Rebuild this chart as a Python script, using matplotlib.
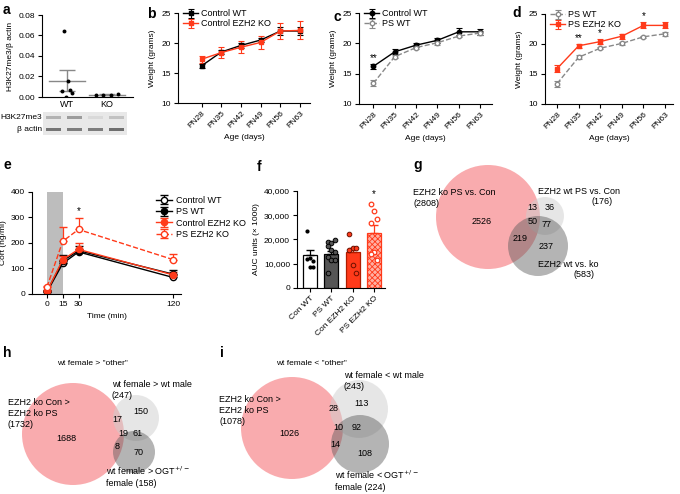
import numpy as np
import matplotlib.pyplot as plt
from matplotlib.patches import Circle, Rectangle

plt.rcParams['font.family'] = ['Liberation Sans', 'DejaVu Sans']
plt.rcParams['font.size'] = 6
plt.rcParams['axes.linewidth'] = 0.8
plt.rcParams['xtick.major.width'] = 0.8
plt.rcParams['ytick.major.width'] = 0.8
plt.rcParams['xtick.major.size'] = 3
plt.rcParams['ytick.major.size'] = 3
plt.rcParams['xtick.major.pad'] = 2
plt.rcParams['ytick.major.pad'] = 2
plt.rcParams['hatch.linewidth'] = 0.6

W, H = 680, 494
RED = '#ff3a1a'
GREY = '#888888'

# ---- data ----
# a: H3K27me3 / beta actin
a_groups = ['WT', 'KO']
a_wt = [0.0055, 0.064, 0.0003, 0.016, 0.007, 0.0036]
a_ko = [0.0022, 0.0018, 0.0020, 0.0030]
blot_rows = ['H3K27me3', 'β actin']
blot_intensity = [[0.5, 0.65, 0.25, 0.4], [0.9, 0.85, 0.85, 0.95]]

# b-d: weights
ages = ['PN28', 'PN35', 'PN42', 'PN49', 'PN56', 'PN63']
b_con_wt = [16.2, 18.5, 19.6, 20.5, 22.0, 22.0]
b_con_wt_sem = [0.3, 0.3, 0.4, 0.4, 0.6, 0.6]
b_con_ko = [17.3, 18.4, 19.3, 20.1, 22.0, 22.1]
b_con_ko_sem = [0.6, 0.9, 1.0, 1.1, 1.3, 1.5]
c_con_wt = [16.2, 18.6, 19.7, 20.5, 21.9, 21.9]
c_con_wt_sem = [0.4, 0.4, 0.3, 0.4, 0.6, 0.5]
ps_wt = [13.4, 17.8, 19.3, 20.1, 21.2, 21.7]
ps_wt_sem = [0.5, 0.3, 0.2, 0.3, 0.2, 0.3]
ps_ko = [15.9, 19.7, 20.4, 21.3, 23.1, 23.1]
ps_ko_sem = [0.6, 0.3, 0.4, 0.4, 0.5, 0.5]
c_stars = ['**', '', '', '', '', '']
d_stars = ['', '**', '*', '', '*', '']

# e: corticosterone
times = [0, 15, 30, 120]
e_con_wt = [8, 120, 165, 65]
e_con_wt_sem = [3, 12, 12, 8]
e_ps_wt = [10, 130, 170, 78]
e_ps_wt_sem = [4, 22, 20, 16]
e_con_ko = [10, 135, 175, 75]
e_con_ko_sem = [4, 15, 25, 12]
e_ps_ko = [28, 207, 253, 135]
e_ps_ko_sem = [5, 55, 45, 22]
e_stars = ['', '', '*', '']

# f: AUC
f_groups = ['Con WT', 'PS WT', 'Con EZH2 KO', 'PS EZH2 KO']
f_means = [13500, 14000, 14700, 22800]
f_sem = [2000, 1300, 1800, 3000]
f_points = [
    [23300, 12200, 11300, 11800, 8800, 8800],
    [19000, 18600, 19700, 17400, 15600, 14900, 12900, 11500, 11500, 6100],
    [22400, 16300, 16300, 15600, 9500, 6100],
    [34600, 31600, 28500, 26700, 14900, 11500, 14200],
]
f_stars = ['', '', '', '*']

# g-i: venn counts
g_sets = ['EZH2 ko PS vs. Con', 'EZH2 wt PS vs. Con', 'EZH2 wt vs. ko']
g_totals = [2808, 176, 583]
g_regions = [2526, 13, 36, 50, 77, 219, 237]  # ko, ko&ps, ps, all, ps&wt, ko&wt, wt
h_title = 'wt female > "other"'
h_totals = [1732, 247, 158]
h_regions = [1688, 17, 150, 19, 61, 8, 70]
i_title = 'wt female < "other"'
i_totals = [1078, 243, 224]
i_regions = [1026, 28, 113, 10, 92, 14, 108]


def px_ax(l, t, r, b):
    return fig.add_axes([l / W, 1 - b / H, (r - l) / W, (b - t) / H])


def clean(ax):
    ax.spines['top'].set_visible(False)
    ax.spines['right'].set_visible(False)


fig = plt.figure(figsize=(6.8, 4.94), dpi=100)

# ---- panel a ----
ax = px_ax(42, 15, 133, 97)
clean(ax)
for i, (vals, spread) in enumerate([(a_wt, 0.13), (a_ko, 0.27)]):
    n = len(vals)
    offs = np.linspace(-spread, spread, n)
    m = np.mean(vals)
    s = np.std(vals, ddof=1) / np.sqrt(n)
    ax.scatter(i + offs, vals, s=8, color='black', zorder=3, linewidths=0)
    ax.plot([i - 0.45, i + 0.45], [m, m], color=GREY, lw=1)
    ax.errorbar(i, m, yerr=s, color=GREY, capsize=6, lw=1, capthick=1)
ax.set_xlim(-0.62, 1.65)
ax.set_ylim(0, 0.08)
ax.set_yticks([0, 0.02, 0.04, 0.06, 0.08])
ax.yaxis.set_major_formatter(plt.FormatStrFormatter('%.2f'))
ax.set_xticks([0, 1])
ax.set_xticklabels(a_groups)
ax.tick_params(axis='x', length=0, labelsize=6.5)
ax.set_ylabel('H3K27me3/β actin', labelpad=3)

bx = px_ax(43, 112, 127, 135)
bx.set_xlim(0, 4)
bx.set_ylim(2, 0)
bx.add_patch(Rectangle((0, 0), 4, 2, color='#e8e8e8'))
for r, row in enumerate(blot_intensity):
    for j, v in enumerate(row):
        g = 1 - 0.6 * v
        bx.add_patch(Rectangle((j + 0.12, r + 0.36), 0.76, 0.28, color=(g, g, g), lw=0))
    bx.text(-0.06, r + 0.5, blot_rows[r], ha='right', va='center', fontsize=6)
bx.axis('off')

# ---- panels b, c, d ----
def weight_panel(box, xlim, series, stars):
    ax = px_ax(*box)
    clean(ax)
    x = np.arange(len(ages))
    for vals, sem, kw in series:
        ax.errorbar(x, vals, yerr=sem, capsize=2, elinewidth=0.8, capthick=0.8, ms=3.2, lw=1, **kw)
    if stars is not None:
        top = np.maximum(np.array(series[0][0]) + series[0][1], np.array(series[1][0]) + series[1][1])
        for xi, st in enumerate(stars):
            if st:
                ax.text(xi, top[xi] + 0.2, st, ha='center', va='bottom', fontsize=7)
    ax.set_xlim(*xlim)
    ax.set_ylim(10, 25)
    ax.set_yticks([10, 15, 20, 25])
    ax.set_xticks(x)
    ax.set_xticklabels(ages, rotation=45, ha='right', rotation_mode='anchor')
    ax.set_xlabel('Age (days)', labelpad=3)
    ax.set_ylabel('Weight (grams)', labelpad=4)
    ax.legend(loc='upper left', bbox_to_anchor=(0.0, 1.1), frameon=False, handlelength=1.6,
              handletextpad=0.4, labelspacing=0.1, borderaxespad=0.2, fontsize=6.5)
    return ax

weight_panel((178, 13, 310, 103), (-1.2, 5.5), [
    (b_con_wt, b_con_wt_sem, dict(color='black', marker='s', label='Control WT')),
    (b_con_ko, b_con_ko_sem, dict(color=RED, marker='s', label='Control EZH2 KO')),
], None)

weight_panel((359, 13, 492, 104), (-0.67, 5.55), [
    (c_con_wt, c_con_wt_sem, dict(color='black', marker='o', label='Control WT')),
    (ps_wt, ps_wt_sem, dict(color=GREY, marker='o', mfc='white', ls='--', label='PS WT')),
], c_stars)

weight_panel((545, 14, 673, 104), (-0.56, 5.37), [
    (ps_wt, ps_wt_sem, dict(color=GREY, marker='o', mfc='white', ls='--', label='PS WT')),
    (ps_ko, ps_ko_sem, dict(color=RED, marker='s', label='PS EZH2 KO')),
], d_stars)

# ---- panel e ----
ax = px_ax(32, 192, 181, 294)
clean(ax)
ax.axvspan(0, 15, color='#bdbdbd', lw=0, zorder=0)
e_series = [
    (e_con_wt, e_con_wt_sem, dict(color='black', marker='o', mfc='white', ls='-', label='Control WT')),
    (e_ps_wt, e_ps_wt_sem, dict(color='black', marker='o', ls='-', label='PS WT')),
    (e_con_ko, e_con_ko_sem, dict(color=RED, marker='o', ls='-', label='Control EZH2 KO')),
    (e_ps_ko, e_ps_ko_sem, dict(color=RED, marker='o', mfc='white', ls='--', label='PS EZH2 KO')),
]
for vals, sem, kw in e_series:
    ax.errorbar(times, vals, yerr=[np.zeros(len(sem)), sem], capsize=3, elinewidth=0.9,
                capthick=0.9, ms=4.5, lw=1, mew=1, **kw)
for t, st, v, s in zip(times, e_stars, e_ps_ko, e_ps_ko_sem):
    if st:
        ax.text(t, v + s + 8, st, ha='center', va='bottom', fontsize=7)
ax.set_xlim(-14.3, 127.6)
ax.set_ylim(0, 400)
ax.set_yticks([0, 100, 200, 300, 400])
ax.set_xticks(times)
ax.set_xlabel('Time (min)', labelpad=4)
ax.set_ylabel('Cort (ng/ml)', labelpad=3)
ax.legend(loc='upper left', bbox_to_anchor=(148 / W, 1 - 188 / H), bbox_transform=fig.transFigure,
          frameon=False, handlelength=1.8, handletextpad=0.4, labelspacing=0.25, fontsize=6.5)

# ---- panel f ----
ax = px_ax(297, 191, 385, 288)
clean(ax)
x = np.arange(len(f_groups))
bar_face = ['white', '#555555', RED, '#ffb0a3']
bar_edge = ['black', 'black', '#b01c00', RED]
for i in x:
    ax.bar(i, f_means[i], width=0.66, color=bar_face[i], edgecolor=bar_edge[i], lw=0.9,
           hatch='xxxxxx' if i == 3 else None, zorder=1)
    ax.errorbar(i, f_means[i], yerr=[[0], [f_sem[i]]], color=bar_edge[i], capsize=3, lw=0.9, zorder=2)
    pts = f_points[i]
    offs = ((np.arange(len(pts)) % 3) - 1) * 0.16
    if i == 0:
        ax.scatter(i + offs, pts, s=9, color='black', zorder=3, lw=0)
    elif i == 1:
        ax.scatter(i + offs, pts, s=11, color='#555555', edgecolors='black', zorder=3, lw=0.7)
    elif i == 2:
        ax.scatter(i + offs, pts, s=11, color=RED, edgecolors='#6b1000', zorder=3, lw=0.7)
    else:
        ax.scatter(i + offs, pts, s=11, facecolors='white', edgecolors=RED, zorder=3, lw=0.9)
    if f_stars[i]:
        ax.text(i, max(pts) + 2000, f_stars[i], ha='center', va='bottom', fontsize=7)
ax.set_xlim(-0.61, 3.52)
ax.set_ylim(0, 40000)
ax.set_yticks([0, 10000, 20000, 30000, 40000])
ax.set_yticklabels(['0', '10,000', '20,000', '30,000', '40,000'])
ax.set_xticks(x)
ax.set_xticklabels(f_groups, rotation=45, ha='right', rotation_mode='anchor')
ax.set_ylabel('AUC units (× 1000)', labelpad=3)

# ---- venn diagrams (pixel coordinates) ----
vx = fig.add_axes([0, 0, 1, 1])
vx.set_xlim(0, W)
vx.set_ylim(H, 0)
vx.axis('off')
vx.set_zorder(-1)

red_c = dict(color='#f7888c', alpha=0.7, lw=0)
light_c = dict(color='#cfcfcf', alpha=0.5, lw=0)
dark_c = dict(color='#5a5a5a', alpha=0.45, lw=0)

def venn(circles, regions, region_xy):
    for (cx, cy, r), kw in zip(circles, [red_c, light_c, dark_c]):
        vx.add_patch(Circle((cx, cy), r, **kw))
    for n, (tx, ty) in zip(regions, region_xy):
        vx.text(tx, ty, str(n), ha='center', va='center', fontsize=6.5)

# g
venn([(488, 217, 52), (545, 216, 19), (538, 246, 30)], g_regions,
     [(482, 221), (532, 207), (550, 207), (533, 221), (547, 224), (520, 238), (546, 246)])
vx.text(413, 198, f'{g_sets[0]}\n({g_totals[0]})', ha='left', va='center', fontsize=6.5, linespacing=1.3)
vx.text(538, 191, g_sets[1], ha='left', va='center', fontsize=6.5)
vx.text(613, 201, f'({g_totals[1]})', ha='right', va='center', fontsize=6.5)
vx.text(538, 264, g_sets[2], ha='left', va='center', fontsize=6.5)
vx.text(594, 274, f'({g_totals[2]})', ha='right', va='center', fontsize=6.5)

# h
venn([(73, 434, 51), (136, 418, 23), (134, 452, 21)], h_regions,
     [(66, 438), (117, 419), (141, 411), (123, 433), (138, 433), (117, 446), (139, 452)])
vx.text(92, 363, h_title, ha='center', va='center', fontsize=6)
vx.text(8, 398, f'EZH2 ko Con >\nEZH2 ko PS\n({h_totals[0]})', ha='left', va='top', fontsize=6.5, linespacing=1.3)
vx.text(112, 380, f'wt female > wt male\n({h_totals[1]})', ha='left', va='top', fontsize=6.5, linespacing=1.3)
vx.text(106, 465, f'wt female > OGT$^{{+/-}}$\nfemale ({h_totals[2]})', ha='left', va='top', fontsize=6.5, linespacing=1.25)

# i
venn([(292, 428, 51), (359, 409, 29), (360, 444, 29)], i_regions,
     [(289, 433), (334, 408), (362, 403), (338, 427), (357, 427), (335, 444), (365, 453)])
vx.text(311, 363, i_title, ha='center', va='center', fontsize=6)
vx.text(219, 395, f'EZH2 ko Con >\nEZH2 ko PS\n({i_totals[0]})', ha='left', va='top', fontsize=6.5, linespacing=1.3)
vx.text(344, 371, f'wt female < wt male\n({i_totals[1]})', ha='left', va='top', fontsize=6.5, linespacing=1.3)
vx.text(335, 469, f'wt female < OGT$^{{+/-}}$\nfemale ({i_totals[2]})', ha='left', va='top', fontsize=6.5, linespacing=1.2)

# panel letters
for lab, (px, py) in zip('abcdefghi', [(3, 10), (147, 14), (333, 17), (512, 13), (3, 165),
                                     (257, 167), (413, 165), (3, 353), (220, 353)]):
    fig.text(px / W, 1 - py / H, lab, fontsize=10, fontweight='bold', ha='left', va='center')

fig.savefig('out.png', dpi=100)
